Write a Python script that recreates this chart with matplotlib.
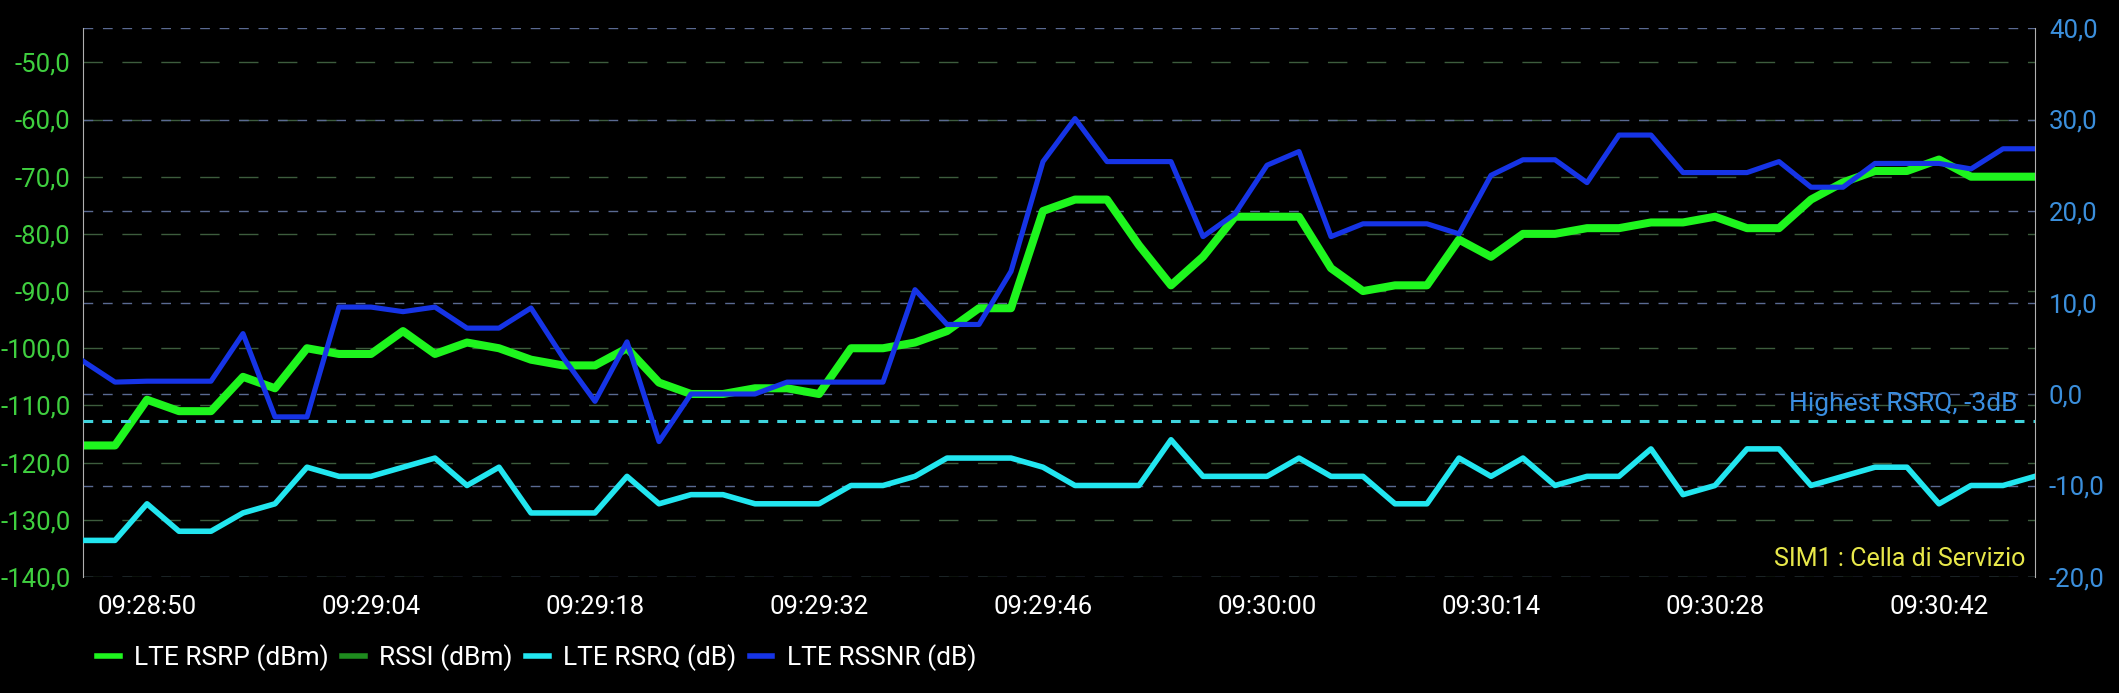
import matplotlib

matplotlib.use("Agg")

import matplotlib.pyplot as plt
import matplotlib.transforms as mtransforms
import pandas as pd
from matplotlib.lines import Line2D
from matplotlib.ticker import FuncFormatter

plt.rcParams["font.family"] = ["Roboto", "DejaVu Sans"]
plt.rcParams["lines.scale_dashes"] = False

# samples every 2 s from 09:28:46 to 09:30:48
times = pd.date_range("2024-01-01 09:28:46", periods=62, freq="2s")

rsrp = [-117, -117, -109, -111, -111, -105, -107, -100, -101, -101,
        -97, -101, -99, -100, -102, -103, -103, -100, -106, -108,
        -108, -107, -107, -108, -100, -100, -99, -97, -93, -93,
        -76, -74, -74, -82, -89, -84, -77, -77, -77, -86,
        -90, -89, -89, -81, -84, -80, -80, -79, -79, -78,
        -78, -77, -79, -79, -74, -71, -69, -69, -67, -70,
        -70, -70]

rsrq = [-16, -16, -12, -15, -15, -13, -12, -8, -9, -9,
        -8, -7, -10, -8, -13, -13, -13, -9, -12, -11,
        -11, -12, -12, -12, -10, -10, -9, -7, -7, -7,
        -8, -10, -10, -10, -5, -9, -9, -9, -7, -9,
        -9, -12, -12, -7, -9, -7, -10, -9, -9, -6,
        -11, -10, -6, -6, -10, -9, -8, -8, -12, -10,
        -10, -9]

rssnr = [3.6, 1.3, 1.4, 1.4, 1.4, 6.6, -2.5, -2.5, 9.5, 9.5,
         9.0, 9.5, 7.2, 7.2, 9.4, 4.0, -0.8, 5.7, -5.2, 0.0,
         0.0, 0.0, 1.3, 1.3, 1.3, 1.3, 11.4, 7.6, 7.6, 13.4,
         25.4, 30.1, 25.4, 25.4, 25.4, 17.2, 19.7, 25.0, 26.5, 17.2,
         18.6, 18.6, 18.6, 17.5, 23.9, 25.6, 25.6, 23.1, 28.3, 28.3,
         24.2, 24.2, 24.2, 25.4, 22.6, 22.6, 25.2, 25.2, 25.2, 24.6,
         26.8, 26.8]

rsrq_limit = -3
x_tick_labels = ["09:28:50", "09:29:04", "09:29:18", "09:29:32", "09:29:46",
                 "09:30:00", "09:30:14", "09:30:28", "09:30:42"]
left_ticks = list(range(-140, -40, 10))
right_ticks = list(range(-20, 50, 10))

C_RSRP = "#1ef51e"
C_RSSI = "#1e8c1e"
C_RSRQ = "#22e6f0"
C_SNR = "#1634e6"
GRID_G = "#3d5c3d"
GRID_B = "#5a6a92"

W, H = 2119, 693
fig = plt.figure(figsize=(W / 100, H / 100), dpi=100, facecolor="black")
ax = fig.add_axes([83 / W, 1 - 577 / H, (2035 - 83) / W, (577 - 28) / H])
ax.set_facecolor("black")
ax2 = ax.twinx()

# grid lines, kept on the lower axes so they stay behind the curves
for v in left_ticks:
    ax.axhline(v, color=GRID_G, lw=1.0, ls=(0, (14, 14)), zorder=0.5)
blend = mtransforms.blended_transform_factory(ax.transAxes, ax2.transData)
for v in right_ticks:
    ax.add_artist(Line2D([0, 1], [v, v], transform=blend, color=GRID_B,
                         lw=1.0, ls=(0, (7, 7)), zorder=0.6))

ax.plot(times, rsrp, color=C_RSRP, lw=5.8, zorder=2)
ax2.plot(times, rsrq, color=C_RSRQ, lw=4.0, zorder=2)
ax2.plot(times, rssnr, color=C_SNR, lw=3.7, zorder=3)
ax2.axhline(rsrq_limit, color="#3fd3dc", lw=2.2, ls=(0, (7, 6.5)), zorder=1)

ax.set_xlim(times[0], times[-1])
ax.set_ylim(-140, -44)
ax2.set_ylim(-20, 40)

comma = FuncFormatter(lambda v, p: f"{v:.1f}".replace(".", ","))
ax.set_yticks(left_ticks)
ax.yaxis.set_major_formatter(comma)
ax2.set_yticks(right_ticks)
ax2.yaxis.set_major_formatter(comma)
ax.set_xticks(pd.to_datetime(["2024-01-01 " + t for t in x_tick_labels]))
ax.set_xticklabels(x_tick_labels)

ax.tick_params(axis="y", length=0, pad=9, labelcolor="#3fcf3f", labelsize=18.5)
ax2.tick_params(axis="y", length=0, pad=10, labelcolor="#3b8fdc", labelsize=18.5)
ax.tick_params(axis="x", length=0, pad=13, labelcolor="white", labelsize=18.5)

for a in (ax, ax2):
    for side in ("top", "bottom"):
        a.spines[side].set_visible(False)
ax.spines["right"].set_visible(False)
ax2.spines["left"].set_visible(False)
ax.spines["left"].set_color("#b0b0b0")
ax2.spines["right"].set_color("#b0b0b0")

ax2.text(0.9908, -1.1, "Highest RSRQ, -3dB", transform=blend, ha="right",
         va="center", fontsize=19, color="#3a8ee0")
ax2.text(0.995, 0.033, "SIM1 : Cella di Servizio", transform=ax.transAxes,
         ha="right", va="center", fontsize=18, color="#e8e84a")

handles = [Line2D([], [], color=c, lw=4) for c in (C_RSRP, C_RSSI, C_RSRQ, C_SNR)]
labels = ["LTE RSRP (dBm)", "RSSI (dBm)", "LTE RSRQ (dB)", "LTE RSSNR (dB)"]
fig.legend(handles, labels, loc="center left", bbox_to_anchor=(97 / W, 1 - 658 / H),
           ncol=4, frameon=False, fontsize=19, labelcolor="white",
           handlelength=0.86, handletextpad=0.55, columnspacing=0.5,
           borderpad=0, borderaxespad=0)

fig.savefig("out.png", dpi=100, facecolor="black")
